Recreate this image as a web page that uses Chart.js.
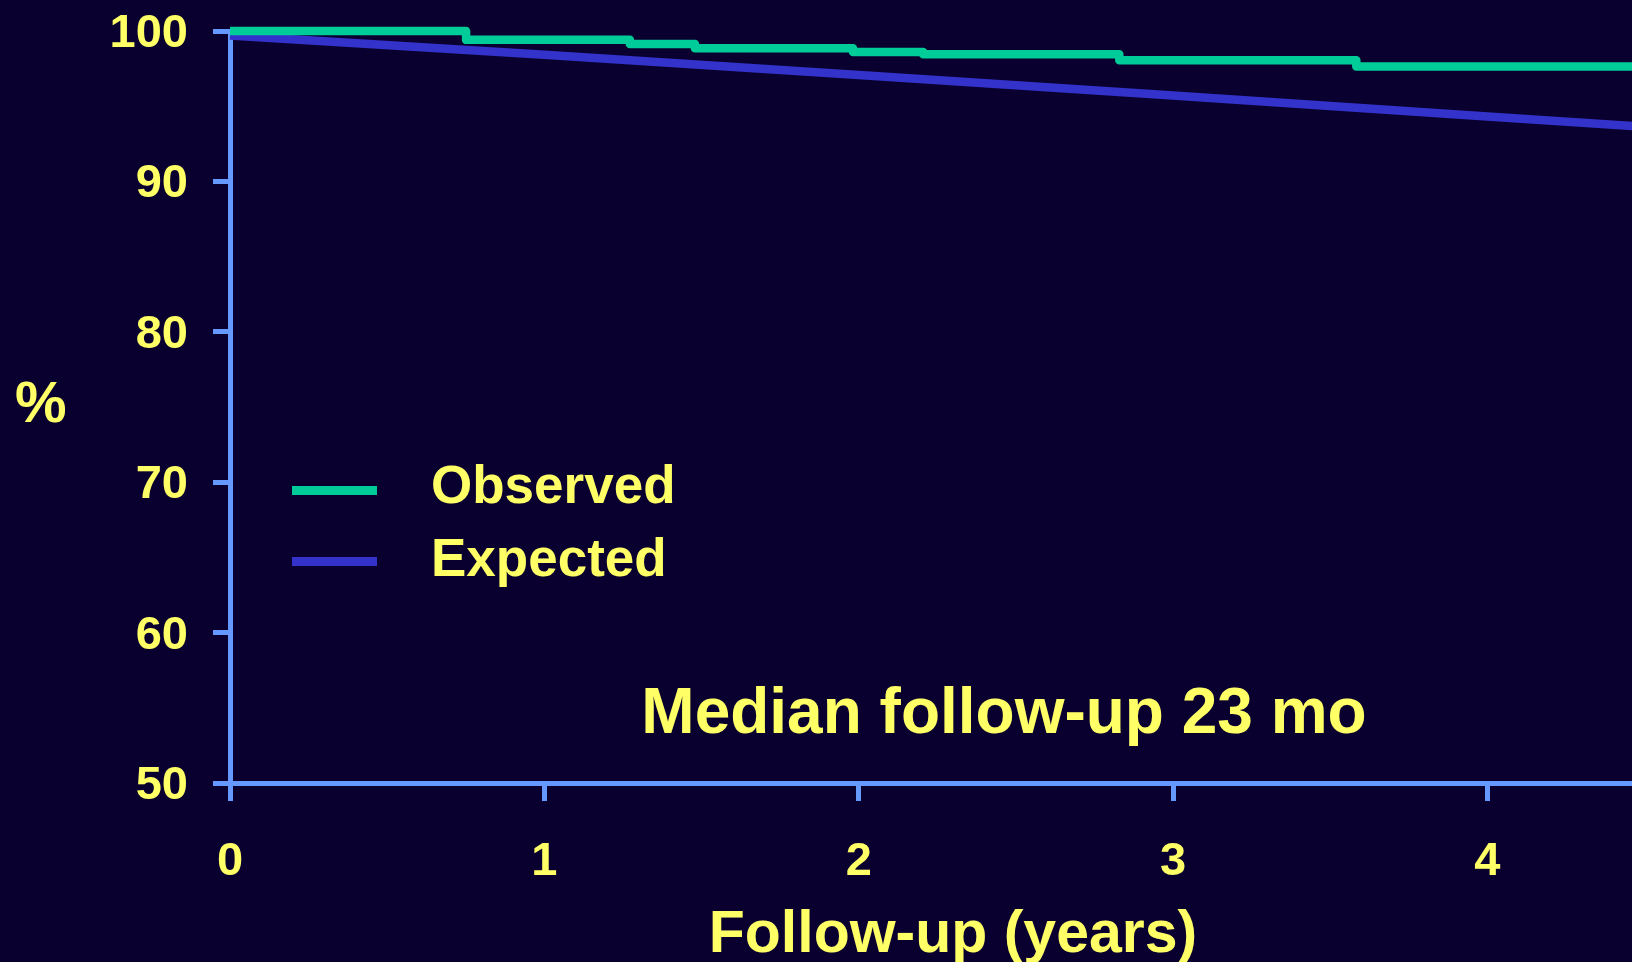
<!DOCTYPE html>
<html>
<head>
<meta charset="utf-8">
<script src="https://cdn.jsdelivr.net/npm/chart.js@4/dist/chart.umd.min.js"></script>
<style>
  html, body { margin: 0; padding: 0; background: #0a0030; overflow: hidden; }
  canvas { display: block; }
</style>
</head>
<body>
<canvas id="survivalChart" width="1632" height="962"></canvas>
<script>
// Données (années, %)
const observedYears = [0, 0.751, 1.272, 1.479, 1.982, 2.205, 2.829, 3.583, 4.5];
const observedPct   = [100, 99.41, 99.13, 98.86, 98.60, 98.45, 98.06, 97.64, 97.64];
const expectedYears = [0, 1, 2, 3, 4, 4.5];
const expectedPct   = [99.7, 98.42, 97.08, 95.71, 94.32, 93.62];
const seriesLabels  = ['Observed', 'Expected'];
const yTicks = [50, 60, 70, 80, 90, 100];
const xTicks = [0, 1, 2, 3, 4];

const yellow = '#ffff66';
const axisBlue = '#6699ff';
const fontFamily = '"Liberation Sans", Arial, Helvetica, sans-serif';

function toPoints(xs, ys) {
    return xs.map((x, i) => ({ x: x, y: ys[i] }));
}

// Textes libres + légende dans la zone du graphique
const annotations = {
    id: 'annotations',
    afterDraw(chart) {
        const ctx = chart.ctx;
        ctx.save();
        ctx.fillStyle = yellow;

        ctx.font = 'bold 58px ' + fontFamily;
        ctx.textAlign = 'left';
        ctx.textBaseline = 'alphabetic';
        ctx.fillText('%', 15, 422);

        ctx.font = 'bold 64px ' + fontFamily;
        ctx.textAlign = 'center';
        ctx.fillText('Median follow-up 23 mo', 1004, 733);

        ctx.font = 'bold 59px ' + fontFamily;
        ctx.fillText('Follow-up (years)', 953, 952);

        // légende
        const rows = [{ y: 490.5, base: 503 }, { y: 561.5, base: 576 }];
        chart.data.datasets.forEach((ds, i) => {
            ctx.strokeStyle = ds.borderColor;
            ctx.lineWidth = 9;
            ctx.lineCap = 'butt';
            ctx.beginPath();
            ctx.moveTo(292, rows[i].y);
            ctx.lineTo(377, rows[i].y);
            ctx.stroke();
            ctx.fillStyle = yellow;
            ctx.font = 'bold 53px ' + fontFamily;
            ctx.textAlign = 'left';
            ctx.fillText(ds.label, 431, rows[i].base);
        });
        ctx.restore();
    }
};

const ctx = document.getElementById('survivalChart').getContext('2d');
new Chart(ctx, {
    type: 'line',
    data: {
        datasets: [
            {
                label: seriesLabels[0],
                data: toPoints(observedYears, observedPct),
                borderColor: '#00cc99',
                borderWidth: 8.5,
                stepped: 'before',
                borderJoinStyle: 'round',
                borderCapStyle: 'butt',
                pointRadius: 0,
                fill: false,
                clip: false
            },
            {
                label: seriesLabels[1],
                data: toPoints(expectedYears, expectedPct),
                borderColor: '#3333cc',
                borderWidth: 8.5,
                borderCapStyle: 'butt',
                pointRadius: 0,
                tension: 0,
                fill: false,
                clip: false
            }
        ]
    },
    options: {
        responsive: false,
        animation: false,
        layout: { padding: { top: 31, left: 0, right: 0, bottom: 0 } },
        plugins: {
            legend: { display: false },
            tooltip: { enabled: false }
        },
        scales: {
            x: {
                type: 'linear',
                min: 0,
                max: 4.46,
                afterFit: s => { s.height = 179; },
                afterBuildTicks: s => { s.ticks = xTicks.map(v => ({ value: v })); },
                ticks: {
                    color: yellow,
                    font: { family: fontFamily, size: 47, weight: 'bold' },
                    padding: 33,
                    maxRotation: 0,
                    includeBounds: false
                },
                grid: {
                    drawOnChartArea: false,
                    drawTicks: true,
                    tickLength: 18,
                    tickWidth: 5,
                    tickColor: axisBlue
                },
                border: { display: true, color: axisBlue, width: 5 }
            },
            y: {
                min: 50,
                max: 100,
                afterFit: s => {
                    s.width = 230;
                    s.paddingTop = 0;
                    s.paddingBottom = 0;
                },
                afterBuildTicks: s => { s.ticks = yTicks.map(v => ({ value: v })); },
                ticks: {
                    color: yellow,
                    font: { family: fontFamily, size: 47, weight: 'bold' },
                    padding: 25,
                    labelOffset: 3
                },
                grid: {
                    drawOnChartArea: false,
                    drawTicks: true,
                    tickLength: 17,
                    tickWidth: 5,
                    tickColor: axisBlue
                },
                border: { display: true, color: axisBlue, width: 5 }
            }
        }
    },
    plugins: [annotations]
});
</script>
</body>
</html>
